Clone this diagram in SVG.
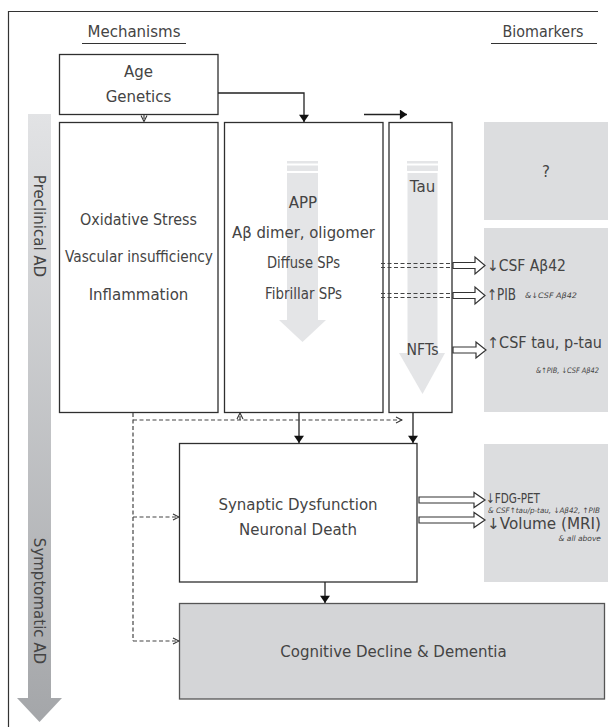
<svg xmlns="http://www.w3.org/2000/svg" width="608" height="727" viewBox="0 0 608 727">
<defs>
<linearGradient id="stage" gradientUnits="userSpaceOnUse" x1="0" y1="114" x2="0" y2="722">
<stop offset="0" stop-color="#e2e3e5"/>
<stop offset="1" stop-color="#a4a6a9"/>
</linearGradient>
<marker id="chev" viewBox="0 0 8 8" refX="7" refY="4" markerWidth="8" markerHeight="8" markerUnits="userSpaceOnUse" orient="auto">
<path d="M1,1 L7,4 L1,7" fill="none" stroke="#333" stroke-width="1.1"/>
</marker>
<marker id="solid" viewBox="0 0 10 14" refX="10" refY="7" markerWidth="14" markerHeight="10" markerUnits="userSpaceOnUse" orient="auto">
<path d="M0,0 L10,7 L0,14 Z" fill="#111"/>
</marker>
</defs>
<style>
text{font-family:"DejaVu Sans","Liberation Sans",sans-serif;fill:#444;font-size:15px}
.mid{text-anchor:middle}
.sm{font-size:7.5px;font-style:italic}
.box{fill:#fff;stroke:#2f2f2f;stroke-width:1.3}
.bio{fill:#dcdddf}
.flow{fill:#e4e5e7}
.solidln{fill:none;stroke:#222;stroke-width:1.3}
.dash{fill:none;stroke:#444;stroke-width:1.2;stroke-dasharray:4 2.5}
.hollow{fill:#fff;stroke:#333;stroke-width:1.2}
</style>

<g id="frame">
<path d="M8.5,727 V11.5 H598" fill="none" stroke="#333" stroke-width="1.2"/>
</g>

<g id="headers">
<text class="mid" x="134" y="37">Mechanisms</text>
<line x1="82" y1="43.5" x2="186" y2="43.5" stroke="#333" stroke-width="1"/>
<text class="mid" x="543" y="37" textLength="81" lengthAdjust="spacingAndGlyphs">Biomarkers</text>
<line x1="491" y1="43.5" x2="597" y2="43.5" stroke="#333" stroke-width="1"/>
</g>

<g id="stage-arrow">
<rect x="28" y="114" width="23" height="585" fill="url(#stage)"/>
<polygon points="17,698 62,698 39.5,722" fill="url(#stage)"/>
<text class="mid" transform="translate(34,226) rotate(90)">Preclinical AD</text>
<text class="mid" transform="translate(34,601) rotate(90)">Symptomatic AD</text>
</g>

<g id="biomarker-panels">
<rect class="bio" x="484" y="122" width="124" height="98"/>
<text class="mid" x="546" y="177">?</text>
<rect class="bio" x="484" y="228" width="124" height="184"/>
<rect class="bio" x="484" y="444" width="124" height="138"/>
</g>

<g id="age-genetics">
<rect class="box" x="59.5" y="54.5" width="158.5" height="60"/>
<text class="mid" x="138.5" y="77">Age</text>
<text class="mid" x="138.5" y="102">Genetics</text>
</g>

<g id="mechanisms">
<rect class="box" x="59.5" y="122.5" width="158.5" height="290"/>
<text class="mid" x="138.5" y="225" textLength="117" lengthAdjust="spacingAndGlyphs">Oxidative Stress</text>
<text class="mid" x="139" y="262" textLength="148" lengthAdjust="spacingAndGlyphs">Vascular insufficiency</text>
<text class="mid" x="138.5" y="300">Inflammation</text>
</g>

<g id="amyloid">
<rect class="box" x="224.5" y="122.5" width="158.5" height="290"/>
<rect class="flow" x="287" y="161" width="31" height="2.5"/>
<rect class="flow" x="287" y="165.5" width="31" height="5.5"/>
<rect class="flow" x="287" y="173" width="31" height="148"/>
<polygon class="flow" points="279,320 326,320 302.5,342"/>
<text class="mid" x="303" y="208">APP</text>
<text class="mid" x="303.5" y="238" textLength="143" lengthAdjust="spacingAndGlyphs">Aβ dimer, oligomer</text>
<text class="mid" x="303.5" y="268" textLength="73" lengthAdjust="spacingAndGlyphs">Diffuse SPs</text>
<text class="mid" x="303.5" y="299" textLength="77" lengthAdjust="spacingAndGlyphs">Fibrillar SPs</text>
</g>

<g id="tau">
<rect class="box" x="389" y="122.5" width="63" height="290"/>
<rect class="flow" x="407" y="161" width="31" height="2.5"/>
<rect class="flow" x="407" y="165.5" width="31" height="5.5"/>
<rect class="flow" x="407.5" y="173" width="30" height="181"/>
<polygon class="flow" points="399,353 445,353 422.5,394"/>
<text class="mid" x="422.5" y="192">Tau</text>
<text class="mid" x="422.5" y="355" textLength="32" lengthAdjust="spacingAndGlyphs">NFTs</text>
</g>

<g id="synaptic">
<rect class="box" x="179.5" y="443.5" width="237.5" height="138.5"/>
<text class="mid" x="298" y="510">Synaptic Dysfunction</text>
<text class="mid" x="298" y="535">Neuronal Death</text>
</g>

<g id="cognitive">
<rect x="179.5" y="603.5" width="425" height="95.5" fill="#d4d5d7" stroke="#555" stroke-width="1.3"/>
<text class="mid" x="393.5" y="657">Cognitive Decline &amp; Dementia</text>
</g>

<g id="biomarker-labels">
<text x="487" y="271" textLength="79" lengthAdjust="spacingAndGlyphs">↓CSF Aβ42</text>
<text x="487" y="300" textLength="29" lengthAdjust="spacingAndGlyphs">↑PIB</text>
<text class="sm" x="525" y="298" textLength="52" lengthAdjust="spacingAndGlyphs">&amp;↓CSF Aβ42</text>
<text x="487" y="348" textLength="115" lengthAdjust="spacingAndGlyphs">↑CSF tau, p-tau</text>
<text class="sm" x="536" y="373" textLength="63" lengthAdjust="spacingAndGlyphs">&amp;↑PIB, ↓CSF Aβ42</text>
<text x="486" y="502.5" style="font-size:13.5px" textLength="54" lengthAdjust="spacingAndGlyphs">↓FDG-PET</text>
<text class="sm" x="488" y="513" textLength="112" lengthAdjust="spacingAndGlyphs">&amp; CSF↑tau/p-tau, ↓Aβ42, ↑PIB</text>
<text x="487" y="529" textLength="114" lengthAdjust="spacingAndGlyphs">↓Volume (MRI)</text>
<text class="sm" x="601" y="541" text-anchor="end">&amp; all above</text>
</g>

<g id="connectors">
<path class="solidln" d="M218,93 H304 V122" marker-end="url(#solid)"/>
<path class="solidln" d="M364,114.5 H407" marker-end="url(#solid)"/>
<path class="solidln" d="M299,413 V443" marker-end="url(#solid)"/>
<path class="solidln" d="M413,413 V443" marker-end="url(#solid)"/>
<path class="solidln" d="M325,582 V603" marker-end="url(#solid)"/>

<path class="dash" d="M144,115 V121.5" marker-end="url(#chev)"/>
<path class="dash" d="M133,413 V641"/>
<path class="dash" d="M133,420 H402" marker-end="url(#chev)"/>
<path class="dash" d="M240,420 V413" marker-end="url(#chev)"/>
<path class="dash" d="M133,517 H179" marker-end="url(#chev)"/>
<path class="dash" d="M133,641 H179" marker-end="url(#chev)"/>

<path class="dash" d="M381,263.5 H454 M381,267.5 H454"/>
<path class="dash" d="M381,293.5 H454 M381,297.5 H454"/>

<path class="hollow" d="M453,262.5 H475 V257 L485,265.5 L475,274 V268.5 H453 Z"/>
<path class="hollow" d="M453,292.5 H475 V287 L485,295.5 L475,304 V298.5 H453 Z"/>
<path class="hollow" d="M453,347 H476 V342 L486,350 L476,358 V353 H453 Z"/>
<path class="hollow" d="M419,497 H474 V492.5 L485,500 L474,507.5 V503 H419 Z"/>
<path class="hollow" d="M419,517 H474 V512.5 L485,520 L474,527.5 V523 H419 Z"/>
</g>
</svg>
